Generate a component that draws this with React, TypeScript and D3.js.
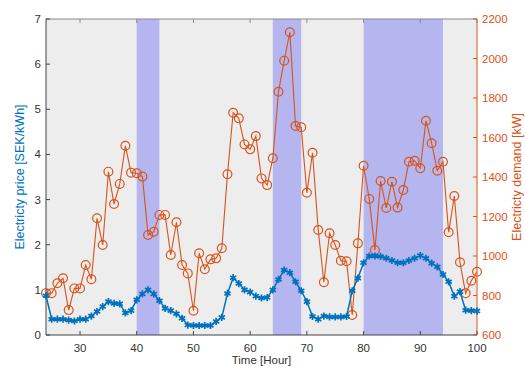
import React from "react";
import * as d3 from "d3";

const hours = d3.range(24, 101);

// electricity price [SEK/kWh], hours 24..100
const price = [
  0.87, 0.35, 0.35, 0.35, 0.33, 0.31, 0.35, 0.35, 0.42, 0.52,
  0.63, 0.74, 0.7, 0.69, 0.49, 0.54, 0.78, 0.91, 1.0, 0.91,
  0.76, 0.59, 0.54, 0.47, 0.37, 0.22, 0.21, 0.21, 0.21, 0.21,
  0.3, 0.39, 0.92, 1.27, 1.14, 1.0, 0.95, 0.86, 0.82, 0.83,
  1.0, 1.23, 1.44, 1.38, 1.18, 0.98, 0.74, 0.41, 0.35, 0.42,
  0.4, 0.4, 0.4, 0.41, 0.98, 1.26, 1.6, 1.75, 1.75, 1.74,
  1.7, 1.65, 1.6, 1.6, 1.65, 1.7, 1.76, 1.7, 1.59, 1.51,
  1.34, 1.18, 0.86, 0.96, 0.55, 0.54, 0.53,
];

// electricity demand [kW], hours 24..100
const demand = [
  812, 812, 862, 887, 726, 836, 836, 954, 882, 1191,
  1056, 1427, 1263, 1365, 1558, 1422, 1419, 1402, 1106, 1123,
  1208, 1208, 1005, 1171, 954, 912, 723, 1014, 933, 983,
  988, 1039, 1414, 1725, 1697, 1565, 1540, 1607, 1393, 1359,
  1495, 1832, 1989, 2133, 1658, 1652, 1320, 1523, 1132, 867,
  1115, 1056, 976, 973, 701, 1064, 1457, 1289, 1030, 1380,
  1243, 1376, 1245, 1334, 1477, 1482, 1444, 1685, 1571, 1432,
  1477, 1120, 1304, 968, 811, 875, 920,
];

// shaded intervals [start, end] in hours
const shadeStart = [40, 64, 80];
const shadeEnd = [44, 69, 94];

const xTicks = [30, 40, 50, 60, 70, 80, 90, 100];
const leftTicks = [0, 1, 2, 3, 4, 5, 6, 7];
const rightTicks = [600, 800, 1000, 1200, 1400, 1600, 1800, 2000, 2200];

const W = 525;
const H = 373;
const margin = { top: 19, right: 48, bottom: 38, left: 46 };

const BLUE = "#0072bd";
const ORANGE = "#d95319";
const FONT = "'Liberation Sans', Arial, sans-serif";

export default function App() {
  const x = d3.scaleLinear().domain([24, 100]).range([margin.left, W - margin.right]);
  const yL = d3.scaleLinear().domain([0, 7]).range([H - margin.bottom, margin.top]);
  const yR = d3.scaleLinear().domain([600, 2200]).range([H - margin.bottom, margin.top]);

  const x0 = margin.left;
  const x1 = W - margin.right;
  const y0 = H - margin.bottom;
  const y1 = margin.top;

  const priceLine = d3.line<number>().x((_, i) => x(hours[i])).y(d => yL(d));
  const demandLine = d3.line<number>().x((_, i) => x(hours[i])).y(d => yR(d));
  const star = d3.symbol(d3.symbolAsterisk, 36)()!;

  return (
    <svg width={W} height={H} style={{ position: "absolute", left: 0, top: 0, background: "#fff" }}
      fontFamily={FONT}>
      <rect x={x0} y={y1} width={x1 - x0} height={y0 - y1} fill="#ededed" />
      {shadeStart.map((s, i) => (
        <rect key={i} x={x(s)} y={y1} width={x(shadeEnd[i]) - x(s)} height={y0 - y1} fill="#b5b5ef" />
      ))}

      {/* box */}
      <line x1={x0} x2={x1} y1={y1} y2={y1} stroke="#8a8a8a" strokeWidth={1} />
      <line x1={x0} x2={x1} y1={y0} y2={y0} stroke="#444" strokeWidth={1} />
      <line x1={x0} x2={x0} y1={y1} y2={y0} stroke="#444" strokeWidth={1} />
      <line x1={x1} x2={x1} y1={y1} y2={y0} stroke={ORANGE} strokeWidth={1} />

      {/* x ticks */}
      {xTicks.map(t => (
        <g key={t}>
          <line x1={x(t)} x2={x(t)} y1={y0} y2={y0 - 4} stroke="#444" />
          <line x1={x(t)} x2={x(t)} y1={y1} y2={y1 + 4} stroke="#8a8a8a" />
          <text x={x(t)} y={y0 + 17} textAnchor="middle" fontSize={11.5} fill="#333">{t}</text>
        </g>
      ))}

      {/* left ticks */}
      {leftTicks.map(t => (
        <g key={t}>
          <line x1={x0} x2={x0 + 4} y1={yL(t)} y2={yL(t)} stroke="#444" />
          <text x={x0 - 5} y={yL(t) + 4} textAnchor="end" fontSize={11.5} fill="#333">{t}</text>
        </g>
      ))}

      {/* right ticks */}
      {rightTicks.map(t => (
        <g key={t}>
          <line x1={x1} x2={x1 - 4} y1={yR(t)} y2={yR(t)} stroke={ORANGE} />
          <text x={x1 + 5} y={yR(t) + 4} textAnchor="start" fontSize={11.5} fill={ORANGE}>{t}</text>
        </g>
      ))}

      {/* demand */}
      <path d={demandLine(demand)!} fill="none" stroke={ORANGE} strokeWidth={1.1} />
      {demand.map((d, i) => (
        <circle key={i} cx={x(hours[i])} cy={yR(d)} r={4.4} fill="none" stroke={ORANGE} strokeWidth={1.2} />
      ))}

      {/* price */}
      <path d={priceLine(price)!} fill="none" stroke={BLUE} strokeWidth={1.5} />
      {price.map((d, i) => (
        <path key={i} d={star} transform={`translate(${x(hours[i])},${yL(d)})`} fill="none" stroke={BLUE} strokeWidth={1.7} />
      ))}

      {/* axis labels */}
      <text x={(x0 + x1) / 2} y={H - 9} textAnchor="middle" fontSize={11.5} fill="#333">Time [Hour]</text>
      <text transform={`translate(24,${(y0 + y1) / 2}) rotate(-90)`} textAnchor="middle" fontSize={12.5} fill={BLUE}>
        Electricty price [SEK/kWh]
      </text>
      <text transform={`translate(521,${(y0 + y1) / 2}) rotate(-90)`} textAnchor="middle" fontSize={12.5} fill={ORANGE}>
        Electricty demand [kW]
      </text>
    </svg>
  );
}
